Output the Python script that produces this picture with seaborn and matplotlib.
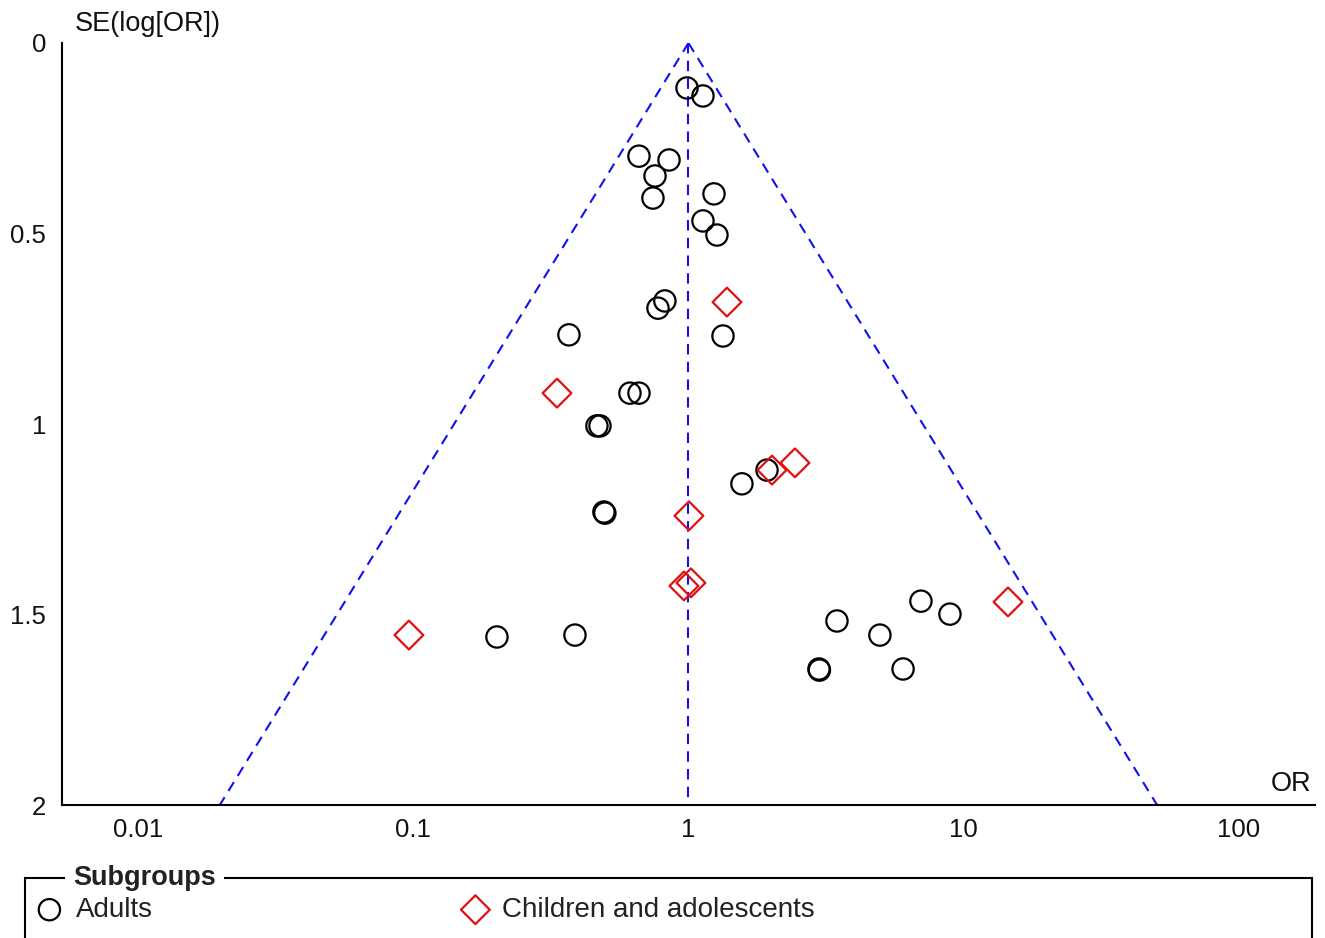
import numpy as np
import pandas as pd
import matplotlib
matplotlib.use("Agg")
import matplotlib.pyplot as plt
from matplotlib.patches import Rectangle
import seaborn as sns

# ---------------- data ----------------
adults_or = [0.988, 1.129, 0.661, 0.850, 0.756, 1.238, 0.743, 1.129, 1.269,
             0.821, 0.775, 0.368, 1.335, 0.613, 0.661, 0.465, 0.477, 1.564,
             1.929, 0.493, 0.497, 3.463, 6.99, 8.91, 4.96, 0.2015, 0.387,
             2.979, 2.99, 6.02]
adults_se = [0.118, 0.139, 0.297, 0.307, 0.349, 0.396, 0.407, 0.467, 0.504,
             0.677, 0.696, 0.766, 0.769, 0.919, 0.919, 1.005, 1.005, 1.157,
             1.121, 1.231, 1.234, 1.517, 1.465, 1.499, 1.554, 1.559, 1.554,
             1.643, 1.646, 1.643]
children_or = [1.380, 0.333, 2.437, 2.011, 1.004, 0.963, 1.021, 14.48, 0.0965]
children_se = [0.680, 0.919, 1.102, 1.121, 1.241, 1.425, 1.417, 1.467, 1.554]

pooled_or = 1.0
se_max = 2.0
z = 1.96

x_ticks = [0.01, 0.1, 1, 10, 100]
x_tick_labels = ["0.01", "0.1", "1", "10", "100"]
y_ticks = [0, 0.5, 1, 1.5, 2]
y_tick_labels = ["0", "0.5", "1", "1.5", "2"]

groups = ["Adults", "Children and adolescents"]

df = pd.concat([
    pd.DataFrame({"OR": adults_or, "SE": adults_se, "Subgroup": groups[0]}),
    pd.DataFrame({"OR": children_or, "SE": children_se, "Subgroup": groups[1]}),
], ignore_index=True)

# ---------------- style ----------------
sns.set_theme(style="white")
plt.rcParams["font.family"] = ["Liberation Sans", "DejaVu Sans"]
FS_TICK = 18.5
FS_LAB = 19.5
FS_LEG = 20

fig = plt.figure(figsize=(13.25, 9.38), dpi=100)
W, H = 1325, 938
ax = fig.add_axes([62 / W, 1 - 805 / H, (1315 - 62) / W, (805 - 43) / H])

# funnel
se_line = np.array([0.0, se_max])
lo = np.exp(np.log(pooled_or) - z * se_line)
hi = np.exp(np.log(pooled_or) + z * se_line)
dash = dict(color="#1010f0", lw=1.5, ls=(0, (5, 3.5)), zorder=1)
ax.plot(lo, se_line, **dash)
ax.plot(hi, se_line, **dash)
ax.plot([pooled_or, pooled_or], se_line, **dash)

# points
sub_a = df[df["Subgroup"] == groups[0]]
sub_c = df[df["Subgroup"] == groups[1]]
sns.scatterplot(data=sub_a, x="OR", y="SE", marker="o", s=235,
                facecolors="none", edgecolor="black", linewidth=1.6,
                ax=ax, label=groups[0], legend=False, zorder=3)
sns.scatterplot(data=sub_c, x="OR", y="SE", marker="D", s=215,
                facecolors="none", edgecolor="#e01010", linewidth=1.6,
                ax=ax, label=groups[1], legend=False, zorder=3)

ax.set_xscale("log")
ax.set_xlim(0.0053, 188.8)
ax.set_ylim(2, 0)
ax.set_xticks(x_ticks)
ax.set_xticklabels(x_tick_labels)
ax.set_yticks(y_ticks)
ax.set_yticklabels(y_tick_labels)
ax.xaxis.set_minor_locator(matplotlib.ticker.NullLocator())
ax.set_xlabel("")
ax.set_ylabel("")

for s in ["top", "right"]:
    ax.spines[s].set_visible(False)
for s in ["left", "bottom"]:
    ax.spines[s].set_color("black")
    ax.spines[s].set_linewidth(1.5)
ax.tick_params(axis="both", direction="inout", length=13, width=1.5,
               color="black", labelsize=FS_TICK, labelcolor="#111111")
ax.tick_params(axis="x", pad=3)
ax.tick_params(axis="y", pad=5)
ax.set_facecolor("white")

ax.text(0.0104, 1.025, "SE(log[OR])", transform=ax.transAxes, ha="left",
        va="center", fontsize=FS_LAB, color="#111111", clip_on=False)
ax.text(0.9968, 0.0276, "OR", transform=ax.transAxes, ha="right",
        va="center", fontsize=FS_LAB, color="#111111", clip_on=False)

# legend frame
fig.add_artist(Rectangle((25 / W, -0.1), (1312 - 25) / W, 0.1 + (938 - 878) / H,
                         transform=fig.transFigure, fill=False,
                         edgecolor="black", lw=1.5))
fig.text(73 / W, 1 - 878 / H, "Subgroups", ha="left", va="center",
         fontsize=FS_LAB, fontweight="bold", color="#222222",
         bbox=dict(facecolor="white", edgecolor="none", pad=6))

handles, labels = ax.get_legend_handles_labels()
ly = 1 - 910 / H
for h, l, x0 in zip(handles, labels, [35.5, 461.5]):
    fig.legend([h], [l], loc="center left", bbox_to_anchor=(x0 / W, ly),
               frameon=False, fontsize=FS_LEG, handlelength=1.0,
               handletextpad=0.45, borderpad=0, borderaxespad=0,
               labelcolor="#222222")

fig.savefig("out.png", dpi=100, facecolor="white")
